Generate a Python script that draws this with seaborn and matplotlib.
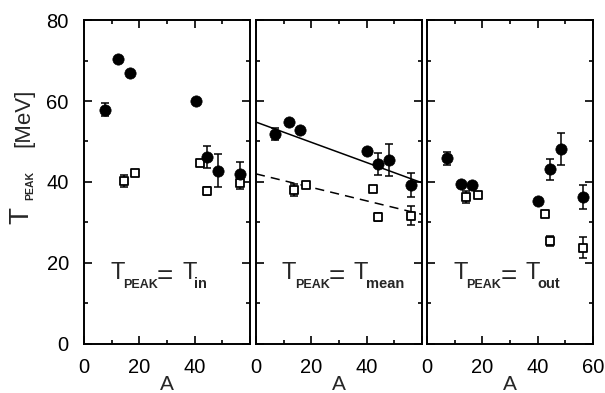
import matplotlib
matplotlib.use("Agg")
import matplotlib.pyplot as plt
from matplotlib.ticker import MultipleLocator
from matplotlib.transforms import offset_copy
import pandas as pd
import seaborn as sns

sns.set_style("ticks")
plt.rcParams["font.family"] = ["Liberation Sans", "DejaVu Sans"]

# --- data ---
panel_subscripts = ["in", "mean", "out"]

circle_a = [
    [7.4, 12.1, 16.5, 40.4, 44.4, 48.4, 56.4],
    [6.9, 12.0, 15.9, 40.0, 44.0, 48.2, 56.2],
    [7.2, 12.3, 16.3, 40.2, 44.4, 48.4, 56.4],
]
circle_t = [
    [57.9, 70.4, 66.8, 60.0, 46.1, 42.8, 42.0],
    [51.9, 54.8, 52.9, 47.6, 44.5, 45.4, 39.2],
    [45.8, 39.4, 39.3, 35.3, 43.1, 48.1, 36.2],
]
circle_err = [
    [1.5, 0, 0, 0, 2.7, 4.0, 3.0],
    [1.5, 0, 0, 0, 2.7, 4.0, 3.0],
    [1.5, 0, 0, 0, 2.5, 4.0, 3.0],
]

square_a = [
    [14.3, 18.3, 41.9, 44.4, 56.4],
    [13.8, 18.1, 42.2, 44.0, 56.2],
    [14.2, 18.3, 42.5, 44.4, 56.4],
]
square_t = [
    [40.2, 42.1, 44.6, 37.8, 39.7],
    [38.0, 39.3, 38.2, 31.4, 31.7],
    [36.2, 36.9, 32.1, 25.4, 23.8],
]
square_err = [
    [1.5, 0, 0, 1.0, 1.5],
    [1.5, 0, 0, 1.0, 2.3],
    [1.5, 0, 0, 1.2, 2.5],
]

# linear fits shown in the middle panel (end points)
fit_a = [0, 60]
fit_circles = [54.8, 39.8]
fit_squares = [42.0, 32.0]


def style_axis(ax, show_y, show_last_x):
    ax.set_xlim(0, 60)
    ax.set_ylim(0, 80)
    ax.xaxis.set_major_locator(MultipleLocator(20))
    ax.xaxis.set_minor_locator(MultipleLocator(10))
    ax.yaxis.set_major_locator(MultipleLocator(20))
    ax.yaxis.set_minor_locator(MultipleLocator(10))
    ax.tick_params(which="both", direction="in", top=True, right=True,
                   width=1.2, labelsize=14.5, colors="black")
    ax.tick_params(which="major", length=5.5)
    ax.tick_params(which="minor", length=3)
    ax.tick_params(axis="x", pad=10)
    ax.tick_params(axis="y", pad=11)
    for sp in ax.spines.values():
        sp.set_visible(True)
        sp.set_linewidth(1.4)
        sp.set_color("black")
    ax.set_xticks([0, 20, 40, 60])
    if show_last_x:
        ax.set_xticklabels(["0", "20", "40", "60"])
    else:
        ax.set_xticklabels(["0", "20", "40", ""])
    if not show_y:
        ax.set_yticklabels([])
    ax.set_xlabel("A", fontsize=15, labelpad=-1)
    ax.set_ylabel("")


def panel_label(ax, sub):
    # "T_PEAK= T_sub": large T, small subscripts dropped below the baseline
    def put(s, dx, dy, size, **kw):
        tr = offset_copy(ax.transAxes, fig=ax.figure, x=dx, y=dy, units="dots")
        ax.text(0, 0, s, transform=tr, fontsize=size, ha="left",
                va="baseline", **kw)

    put("T", 26, 65, 17)
    put("PEAK", 39, 56, 9, fontweight="semibold")
    put("=", 73, 60, 20)
    put("T", 98, 65, 17)
    put(sub, 110, 56, 10.5, fontweight="semibold")


fig = plt.figure(figsize=(6.05, 3.93), dpi=100)
lefts = [0.139, 0.423, 0.706]
axes = [fig.add_axes([l, 0.125, 0.2744, 0.824]) for l in lefts]

for i, ax in enumerate(axes):
    circ = pd.DataFrame({"A": circle_a[i], "T": circle_t[i], "err": circle_err[i]})
    sq = pd.DataFrame({"A": square_a[i], "T": square_t[i], "err": square_err[i]})

    ax.errorbar(circ["A"], circ["T"], yerr=circ["err"], fmt="none",
                ecolor="black", elinewidth=1.1, capsize=3.2, capthick=1.1, zorder=2)
    ax.errorbar(sq["A"], sq["T"], yerr=sq["err"], fmt="none",
                ecolor="black", elinewidth=1.1, capsize=3.2, capthick=1.1, zorder=2)

    if i == 1:
        fit = pd.DataFrame({"A": fit_a, "c": fit_circles, "s": fit_squares})
        sns.lineplot(data=fit, x="A", y="c", ax=ax, color="black", lw=1.1)
        sns.lineplot(data=fit, x="A", y="s", ax=ax, color="black", lw=1.1,
                     linestyle=(0, (6, 4)))

    sns.scatterplot(data=sq, x="A", y="T", ax=ax, marker="s", s=34,
                    facecolor="white", edgecolor="black", linewidth=1.3, zorder=3)
    sns.scatterplot(data=circ, x="A", y="T", ax=ax, marker="o", s=66,
                    color="black", edgecolor="black", linewidth=0.5, zorder=4)

    style_axis(ax, show_y=(i == 0), show_last_x=(i == 2))
    panel_label(ax, panel_subscripts[i])

# y axis label built from pieces (figure pixel positions, y measured from top)
W, H = 605, 393


def fig_text(s, x, y, size, **kw):
    fig.text(x / W, 1 - y / H, s, fontsize=size, rotation=90,
             rotation_mode="anchor", ha="left", va="baseline", **kw)


fig_text("T", 28, 224, 20)
fig_text("PEAK", 33, 200, 7.5, fontweight="semibold")
fig_text("[MeV]", 29, 147, 16)

fig.savefig("out.png", dpi=100)
